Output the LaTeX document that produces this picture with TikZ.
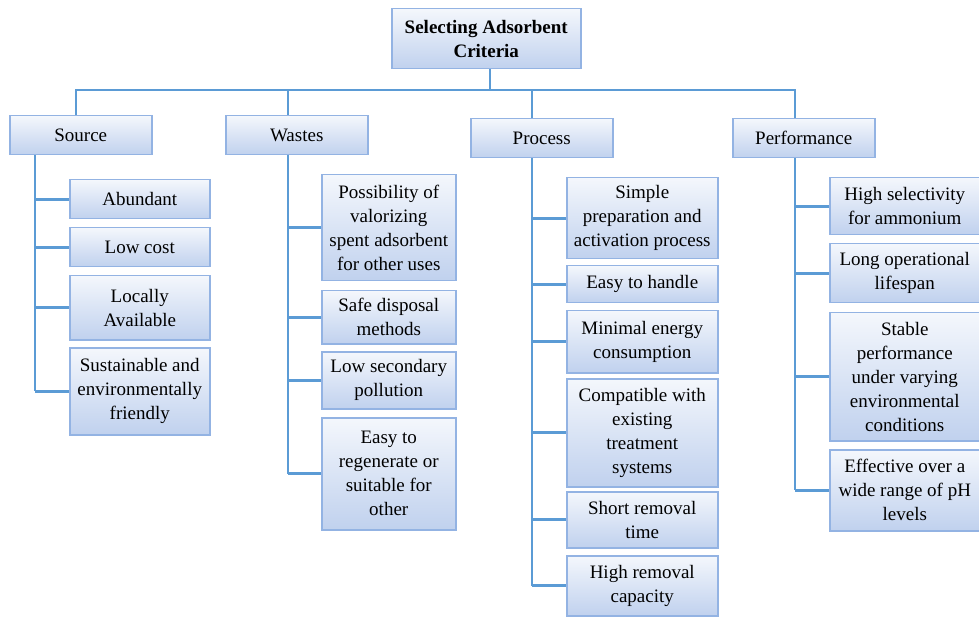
\documentclass[tikz,border=0pt]{standalone}
\usepackage{fontspec}
\setmainfont{Liberation Serif}
\usepackage{xcolor}
\usepackage{tikz}

\definecolor{boxtop}{HTML}{F4F7FC}
\definecolor{boxbot}{HTML}{C0D1EE}
\definecolor{boxline}{HTML}{93B3E3}
\definecolor{wireblue}{HTML}{5B9BD5}

\begin{document}
\begin{tikzpicture}[x=1pt,y=-1pt,
  box/.style={draw=boxline,line width=1.5pt,top color=boxtop,bottom color=boxbot,
    align=center,inner sep=2pt,anchor=north west,font=\fontsize{19}{24}\selectfont},
  wire/.style={draw=wireblue,line width=2.8pt}]
  \useasboundingbox (0,0) rectangle (979,617);
  \node[box,minimum width=189pt,minimum height=60pt] (root) at (391,8)
    {\textbf{Selecting Adsorbent}\\\textbf{Criteria}};
  \foreach \n/\x/\y/\t in {src/9/115/Source,wst/225/115/Wastes,
      prc/470/118/Process,prf/732/118/Performance} {
    \node[box,minimum width=142pt,minimum height=39pt] (\n) at (\x,\y) {\t};
  }
  % source column
  \foreach \n/\y/\h/\t in {src1/179/39pt/Abundant,src2/227/39pt/Low cost,
      src3/275/64pt/Locally\\Available,
      src4/347/87pt/Sustainable and\\environmentally\\friendly} {
    \node[box,minimum width=140pt,minimum height=\h] (\n) at (69,\y) {\t};
  }
  % wastes column
  \foreach \n/\y/\h/\t in {wst1/174/106pt/Possibility of\\valorizing\\spent adsorbent\\for other uses,
      wst2/290/53pt/Safe disposal\\methods,
      wst3/351/57pt/Low secondary\\pollution,
      wst4/417/112pt/Easy to\\regenerate or\\suitable for\\other} {
    \node[box,minimum width=134pt,minimum height=\h] (\n) at (321,\y) {\t};
  }
  % process column
  \foreach \n/\y/\h/\t in {prc1/177/81pt/Simple\\preparation and\\activation process,
      prc2/265/37pt/Easy to handle,
      prc3/310/62pt/Minimal energy\\consumption,
      prc4/378/108pt/Compatible with\\existing\\treatment\\systems,
      prc5/491/56pt/Short removal\\time,
      prc6/555/60pt/High removal\\capacity} {
    \node[box,minimum width=151pt,minimum height=\h] (\n) at (566,\y) {\t};
  }
  % performance column
  \foreach \n/\y/\h/\t in {prf1/177/57pt/High selectivity\\for ammonium,
      prf2/243/59pt/Long operational\\lifespan,
      prf3/312/128pt/Stable\\performance\\under varying\\environmental\\conditions,
      prf4/449/81pt/Effective over a\\wide range of pH\\levels} {
    \node[box,minimum width=150pt,minimum height=\h] (\n) at (829,\y) {\t};
  }
  % connectors
  \coordinate (bus) at (490,90);
  \coordinate (busl) at (76,90);
  \coordinate (busr) at (795,90);
  \draw[wire] (bus |- root.south) -- (bus);
  \draw[wire] (src.north -| busl) |- (busr) -- (prf.north -| busr);
  \foreach \p/\x/\last in {src/35/src4,wst/288/wst4,prc/532/prc6,prf/795/prf4} {
    \coordinate (\p-spine) at (\x,0);
    \draw[wire] (\p-spine |- \p.south) -- (\p-spine |- \last.west);
  }
  \draw[wire] (wst-spine |- bus) -- (wst-spine |- wst.north);
  \draw[wire] (prc-spine |- bus) -- (prc-spine |- prc.north);
  \foreach \p/\c in {src/src1,src/src2,src/src3,src/src4,
      wst/wst1,wst/wst2,wst/wst3,wst/wst4,
      prc/prc1,prc/prc2,prc/prc3,prc/prc4,prc/prc5,prc/prc6,
      prf/prf1,prf/prf2,prf/prf3,prf/prf4} {
    \draw[wire] (\p-spine |- \c.west) -- (\c.west);
  }
\end{tikzpicture}
\end{document}
